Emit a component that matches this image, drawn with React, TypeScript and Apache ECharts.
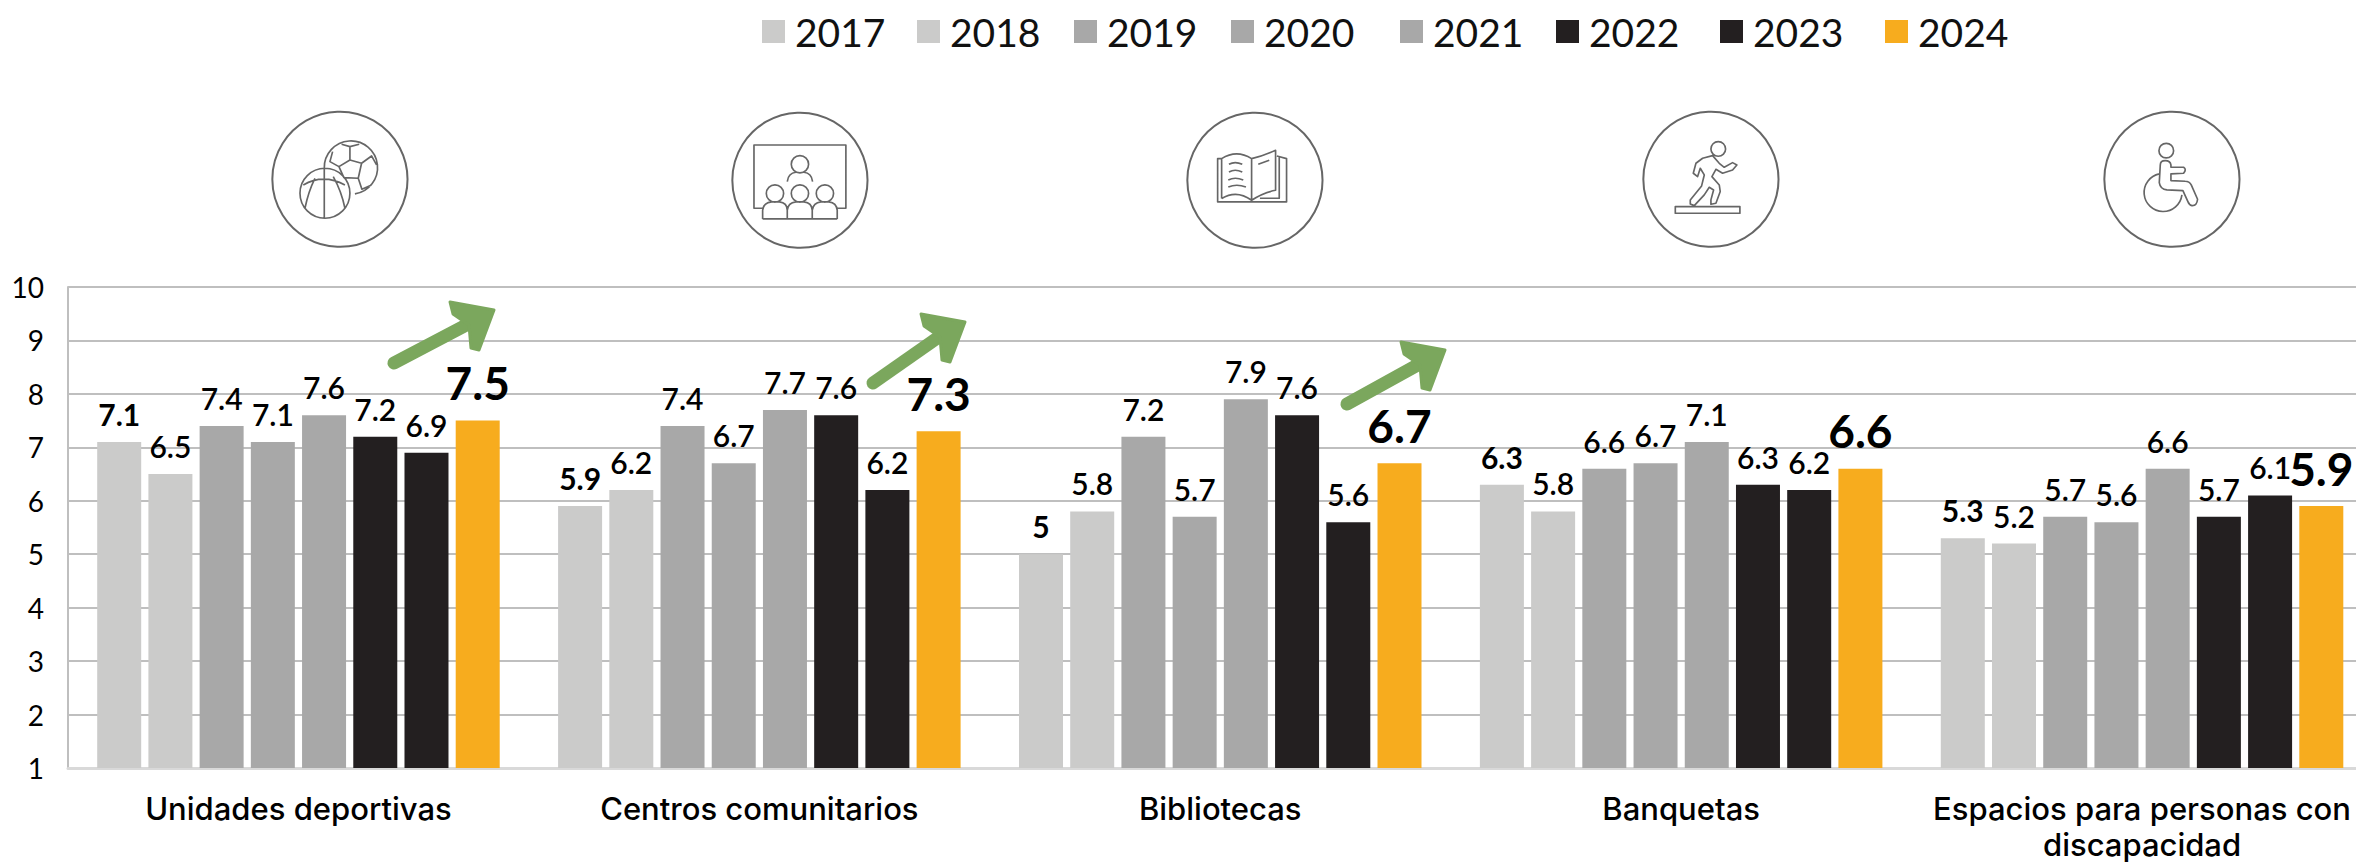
import React, { useEffect, useRef } from "react";
import * as echarts from "echarts";

const categories = [
  "Unidades deportivas",
  "Centros comunitarios",
  "Bibliotecas",
  "Banquetas",
  "Espacios para personas con\ndiscapacidad",
];
const years = ["2017", "2018", "2019", "2020", "2021", "2022", "2023", "2024"];
const v2017 = [7.1, 5.9, 5, 6.3, 5.3];
const v2018 = [6.5, 6.2, 5.8, 5.8, 5.2];
const v2019 = [7.4, 7.4, 7.2, 6.6, 5.7];
const v2020 = [7.1, 6.7, 5.7, 6.7, 5.6];
const v2021 = [7.6, 7.7, 7.9, 7.1, 6.6];
const v2022 = [7.2, 7.6, 7.6, 6.3, 5.7];
const v2023 = [6.9, 6.2, 5.6, 6.2, 6.1];
const v2024 = [7.5, 7.3, 6.7, 6.6, 5.9];
const allValues = [v2017, v2018, v2019, v2020, v2021, v2022, v2023, v2024];
const colors = ["#CBCBCA", "#CBCBCA", "#A8A8A8", "#A8A8A8", "#A8A8A8", "#231F20", "#231F20", "#F7AC1E"];
const legendLefts = [762, 917, 1074, 1231, 1400, 1556, 1720, 1885];

const FONT = "Lato";
const ICON = "#666666";
const GREEN = "#7BA75D";

const iconPaths: Record<string, string> = {
  iconBalls:
    "M163,175 A80,80 0 1 1 255,252 M240,110 L240,150 L207,170 L222,203 L265,205 L275,160 L240,150 M215,103 L240,110 L268,103 M275,160 L305,138 L320,165 M265,205 L276,238 L305,225 M207,170 L180,155 L188,125 M163,175 L163,325 M90,250 A75,75 0 1 1 240,250 A75,75 0 1 1 90,250 M100,225 Q160,190 225,225 M105,295 Q115,245 135,205 M225,295 Q215,245 190,200",
  iconClass:
    "M98,292 L72,292 L72,102 L348,102 L348,292 L322,292 M184,160 A26,26 0 1 1 236,160 A26,26 0 1 1 184,160 M172,212 Q175,186 198,184 M248,212 Q245,186 222,184 M109,248 A26,26 0 1 1 161,248 A26,26 0 1 1 109,248 M184,248 A26,26 0 1 1 236,248 A26,26 0 1 1 184,248 M259,248 A26,26 0 1 1 311,248 A26,26 0 1 1 259,248 M98,324 L322,324 M98,324 L98,298 Q100,276 125,273 L148,273 Q172,276 172,298 L172,324 M172,298 Q174,276 198,273 L222,273 Q246,276 247,298 L247,324 M247,298 Q250,276 273,273 L297,273 Q320,276 322,298 L322,324",
  iconBook:
    "M110,143 L98,143 L98,273 L305,273 L305,143 L276,135 M110,263 L110,143 Q155,115 200,143 L200,268 Q155,235 110,263 M200,143 Q235,135 272,118 L272,238 Q235,245 200,268 M132,160 Q150,150 172,160 M132,183 Q150,173 172,183 M130,207 Q150,197 175,207 M130,228 Q155,218 183,228 M220,160 L253,148 M283,140 L283,262 L225,262",
  iconRun:
    "M210,117 A22,22 0 1 1 254,117 A22,22 0 1 1 210,117 M215,137 L235,160 L250,172 L275,158 L288,165 L275,180 L245,190 L225,178 L213,200 L235,225 L238,245 L225,280 L210,283 L210,270 L218,240 L205,232 L190,255 L160,287 L148,282 L148,270 L182,228 L190,195 L178,175 L170,200 L157,190 L165,160 L185,145 Z M103,290 L297,290 L297,310 L103,310 Z",
  iconWheel:
    "M171,122 A22,22 0 1 1 215,122 A22,22 0 1 1 171,122 M175,165 Q175,152 190,152 Q205,152 207,165 L207,172 L245,172 Q255,178 245,190 L207,192 L207,212 L250,214 Q262,214 268,225 L287,268 Q285,288 270,287 Q262,285 258,275 L243,242 L195,240 Q175,238 172,218 Z M172,192 A57,57 0 1 0 240,255",
};
Object.keys(iconPaths).forEach((k) => {
  echarts.graphic.registerShape(k, (echarts.graphic as any).extendPath(iconPaths[k], {}));
});

const iconBoxes: [string, number, number][] = [
  ["iconBalls", 270, 110],
  ["iconClass", 730, 111],
  ["iconBook", 1185, 111],
  ["iconRun", 1641, 110],
  ["iconWheel", 2102, 110],
];

function iconGraphic(name: string, x: number, y: number) {
  return {
    type: "group",
    x,
    y,
    scaleX: 1 / 3,
    scaleY: 1 / 3,
    children: [
      { type: "circle", shape: { cx: 210, cy: 208, r: 203 }, style: { fill: "none", stroke: ICON, lineWidth: 6 } },
      { type: name, style: { fill: "none", stroke: ICON, lineWidth: 5, lineJoin: "round" } },
    ],
  };
}

// [shaft base centre, arrow tip]
const arrows: number[][][] = [
  [[394, 363], [494, 310]],
  [[873, 383], [965, 322]],
  [[1347, 404], [1445, 350]],
];
const headOffsets = [[-44, -8], [0, 0], [-15, 40], [-23, 38], [-25, 15], [-41, 4]];

function arrowGraphic(a: number[][]) {
  const [b, t] = a;
  return {
    type: "group",
    z: 10,
    children: [
      { type: "line", z: 10, shape: { x1: b[0], y1: b[1], x2: t[0] - 22, y2: t[1] + 12 }, style: { stroke: GREEN, lineWidth: 13, lineCap: "round" } },
      {
        type: "polygon",
        z: 10,
        shape: { points: headOffsets.map((o) => [t[0] + o[0], t[1] + o[1]]) },
        style: { fill: GREEN, stroke: GREEN, lineWidth: 3, lineJoin: "round" },
      },
    ],
  };
}

export default function App() {
  const ref = useRef<HTMLDivElement>(null);
  useEffect(() => {
    document.body.style.margin = "0";
    const chart = echarts.init(ref.current!, undefined, { renderer: "svg" });
    chart.setOption({
      animation: false,
      backgroundColor: "#FFFFFF",
      textStyle: { fontFamily: FONT },
      legend: years.map((y, i) => ({
        left: legendLefts[i],
        top: 12,
        padding: 0,
        itemWidth: 23,
        itemHeight: 23,
        icon: "rect",
        data: [y],
        textStyle: { fontFamily: FONT, fontSize: 39, color: "#111111", padding: [0, 0, 0, 5] },
      })),
      grid: { left: 68, top: 287, width: 2304.5, height: 481, containLabel: false, outerBoundsMode: "none" },
      xAxis: {
        type: "category",
        data: categories,
        axisTick: { show: false },
        axisLine: { lineStyle: { color: "#D9D9D9", width: 3 } },
        axisLabel: { color: "#000000", fontFamily: "Inter", fontSize: 31, fontWeight: 500, margin: 22, lineHeight: 36, interval: 0 },
      },
      yAxis: {
        type: "value",
        min: 1,
        max: 10,
        interval: 1,
        axisLine: { show: true, lineStyle: { color: "#BFBFBF", width: 2 } },
        axisTick: { show: false },
        splitLine: { lineStyle: { color: "#BFBFBF", width: 2 } },
        axisLabel: { color: "#000000", fontFamily: FONT, fontSize: 28, margin: 24 },
      },
      series: years.map((y, i) => ({
        name: y,
        type: "bar",
        data: allValues[i],
        barWidth: 44,
        barGap: "16.4%",
        itemStyle: { color: colors[i] },
        label: {
          show: true,
          position: "top",
          distance: i === 7 ? 15 : 13,
          color: "#000000",
          fontFamily: FONT,
          fontWeight: i === 7 || i === 0 ? 700 : 600,
          fontSize: i === 7 ? 46 : 30,
        },
      })),
      graphic: {
        elements: [
          ...iconBoxes.map(([n, x, y]) => iconGraphic(n, x, y)),
          ...arrows.map(arrowGraphic),
        ],
      },
    });
    return () => chart.dispose();
  }, []);
  return <div ref={ref} style={{ width: 2356, height: 863, overflow: "hidden" }} />;
}
